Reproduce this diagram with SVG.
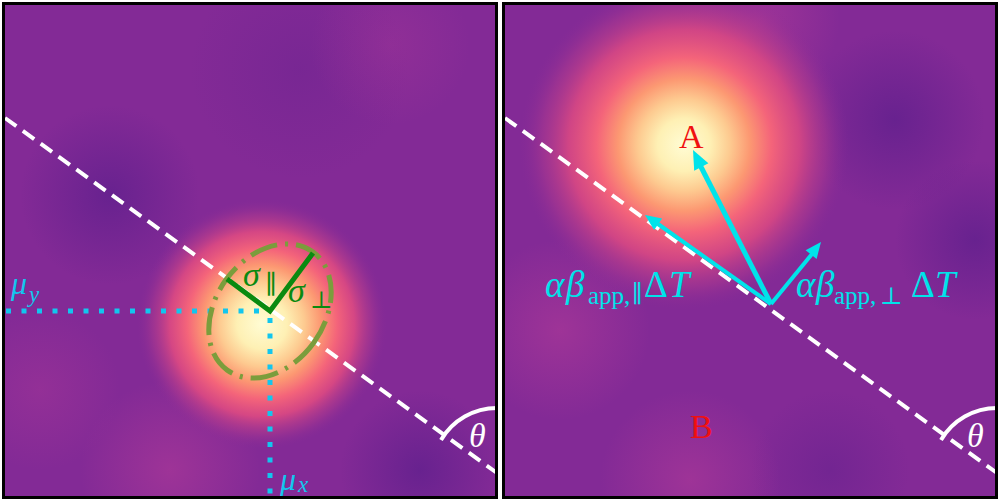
<svg xmlns="http://www.w3.org/2000/svg" width="1000" height="501" viewBox="0 0 1000 501">
<style>
.m{font-family:"Liberation Serif","DejaVu Serif",serif;font-style:italic}
.u{font-style:normal}
.cyl{fill:#12c6ee}
.cyr{fill:#00e3ea}
.grn{fill:#0a8a10}
.red{fill:#f01010;font-family:"Liberation Serif","DejaVu Serif",serif;font-size:34px}
.wt{fill:#ffffff}
.dash{stroke:#ffffff;stroke-width:4;stroke-dasharray:14 8;fill:none}
.arc{stroke:#ffffff;stroke-width:4;fill:none}
.dot{stroke:#12c6ee;stroke-width:5;stroke-dasharray:5 10.5;fill:none}
.arr{stroke:#00e3ea;fill:none}
.head{fill:#00e3ea}
.frame{fill:none;stroke:#000;stroke-width:3}
</style>
<defs>
<clipPath id="cL"><rect x="3" y="3" width="494" height="495"/></clipPath>
<clipPath id="cR"><rect x="503" y="3" width="494" height="495"/></clipPath>
<radialGradient id="gL" gradientUnits="userSpaceOnUse" cx="262" cy="324" r="125">
<stop offset="0" stop-color="#fffcd4"/>
<stop offset="0.2" stop-color="#fef0b4"/>
<stop offset="0.34" stop-color="#fdca90"/>
<stop offset="0.47" stop-color="#fc9872"/>
<stop offset="0.6" stop-color="#f4647a"/>
<stop offset="0.74" stop-color="#de4a82" stop-opacity="0.9"/>
<stop offset="0.88" stop-color="#b23a8e" stop-opacity="0.5"/>
<stop offset="1" stop-color="#8a2c96" stop-opacity="0"/>
</radialGradient>
<radialGradient id="gR" gradientUnits="userSpaceOnUse" cx="684" cy="145" r="165">
<stop offset="0" stop-color="#fffcd4"/>
<stop offset="0.16" stop-color="#fef0b4"/>
<stop offset="0.28" stop-color="#fdca90"/>
<stop offset="0.4" stop-color="#fc9872"/>
<stop offset="0.53" stop-color="#f4647a"/>
<stop offset="0.7" stop-color="#de4a82" stop-opacity="0.85"/>
<stop offset="0.86" stop-color="#b23a8e" stop-opacity="0.5"/>
<stop offset="1" stop-color="#8a2c96" stop-opacity="0"/>
</radialGradient>
<radialGradient id="dk"><stop offset="0" stop-color="#5c1e8c" stop-opacity="0.7"/><stop offset="1" stop-color="#5c1e8c" stop-opacity="0"/></radialGradient>
<radialGradient id="lt"><stop offset="0" stop-color="#b03a98" stop-opacity="0.6"/><stop offset="1" stop-color="#b03a98" stop-opacity="0"/></radialGradient>
</defs>
<rect width="1000" height="501" fill="#ffffff"/>
<g id="panel-left" clip-path="url(#cL)">
<rect x="3" y="3" width="494" height="495" fill="#832a96"/>
<circle cx="110" cy="195" r="90" fill="url(#dk)"/>
<circle cx="420" cy="470" r="80" fill="url(#dk)"/>
<circle cx="300" cy="70" r="110" fill="url(#dk)" opacity="0.4"/>
<circle cx="390" cy="45" r="80" fill="url(#lt)" opacity="0.5"/>
<circle cx="170" cy="470" r="90" fill="url(#lt)"/>
<circle cx="40" cy="390" r="80" fill="url(#lt)" opacity="0.6"/>
<circle cx="262" cy="324" r="125" fill="url(#gL)"/>
</g>
<g id="panel-right" clip-path="url(#cR)">
<rect x="503" y="3" width="494" height="495" fill="#832a96"/>
<circle cx="895" cy="120" r="90" fill="url(#dk)"/>
<circle cx="975" cy="240" r="80" fill="url(#dk)"/>
<circle cx="830" cy="470" r="80" fill="url(#dk)" opacity="0.6"/>
<circle cx="560" cy="330" r="90" fill="url(#lt)"/>
<circle cx="690" cy="480" r="90" fill="url(#lt)"/>
<circle cx="760" cy="20" r="80" fill="url(#lt)"/>
<circle cx="684" cy="145" r="165" fill="url(#gR)"/>
</g>
<g id="connectors">
<line class="dash" x1="5" y1="118" x2="497" y2="473"/>
<line class="dash" x1="505" y1="118" x2="997" y2="473"/>
<path class="arc" d="M497,408 A65,65 0 0,0 441,440"/>
<path class="arc" d="M997,408 A65,65 0 0,0 941,440"/>
<line class="dot" x1="6" y1="311" x2="268" y2="311"/>
<line class="dot" x1="270" y1="318" x2="270" y2="498"/>
<ellipse cx="270" cy="311" rx="54" ry="73" transform="rotate(35.9 270 311)" fill="none" stroke="#7b9d3c" stroke-width="5" stroke-dasharray="28 8 3 8"/>
<polyline points="227,279 270,311 313,253" fill="none" stroke="#0a8a10" stroke-width="5"/>
<line class="arr" stroke-width="5" x1="771" y1="304" x2="699" y2="163"/>
<polygon class="head" points="693,150 708.4,163.3 694.2,170.7"/>
<line class="arr" stroke-width="4" x1="771" y1="304" x2="658" y2="224"/>
<polygon class="head" points="645,215 662.1,218.5 654.1,229.9"/>
<line class="arr" stroke-width="4" x1="771" y1="304" x2="812" y2="254"/>
<polygon class="head" points="821,242 816.6,258.9 805.6,250.2"/>
</g>
<g id="labels-left">
<text class="m cyl" x="11" y="294" font-size="32">μ<tspan x="29" y="302" font-size="23">y</tspan></text>
<text class="m cyl" x="280" y="490" font-size="32">μ<tspan x="298" y="492" font-size="23">x</tspan></text>
<text class="m grn" x="243" y="286" font-size="34">σ<tspan class="u" x="265" y="293" font-size="26">∥</tspan></text>
<text class="m grn" x="288" y="302" font-size="34">σ<tspan class="u" x="310" y="308" font-size="24">⊥</tspan></text>
<text class="m wt" x="469" y="447" font-size="34">θ</text>
</g>
<g id="labels-right">
<text class="red" x="679" y="148">A</text>
<text class="red" x="690" y="438">B</text>
<text class="m cyr" x="545" y="297" font-size="37">α<tspan x="566">β</tspan><tspan class="u" x="588" y="304" font-size="25">app,</tspan><tspan class="u" x="632" y="302" font-size="24">∥</tspan><tspan class="u" x="644" y="297" font-size="37">Δ</tspan><tspan x="669" y="297">T</tspan></text>
<text class="m cyr" x="796" y="297" font-size="37">α<tspan x="816">β</tspan><tspan class="u" x="834" y="304" font-size="25">app,</tspan><tspan class="u" x="880" y="304" font-size="24">⊥</tspan><tspan class="u" x="911" y="297" font-size="37">Δ</tspan><tspan x="935" y="297">T</tspan></text>
<text class="m wt" x="967" y="447" font-size="34">θ</text>
</g>
<g id="frames">
<rect class="frame" x="3.5" y="3.5" width="493" height="494"/>
<rect class="frame" x="503.5" y="3.5" width="493" height="494"/>
</g>
</svg>
